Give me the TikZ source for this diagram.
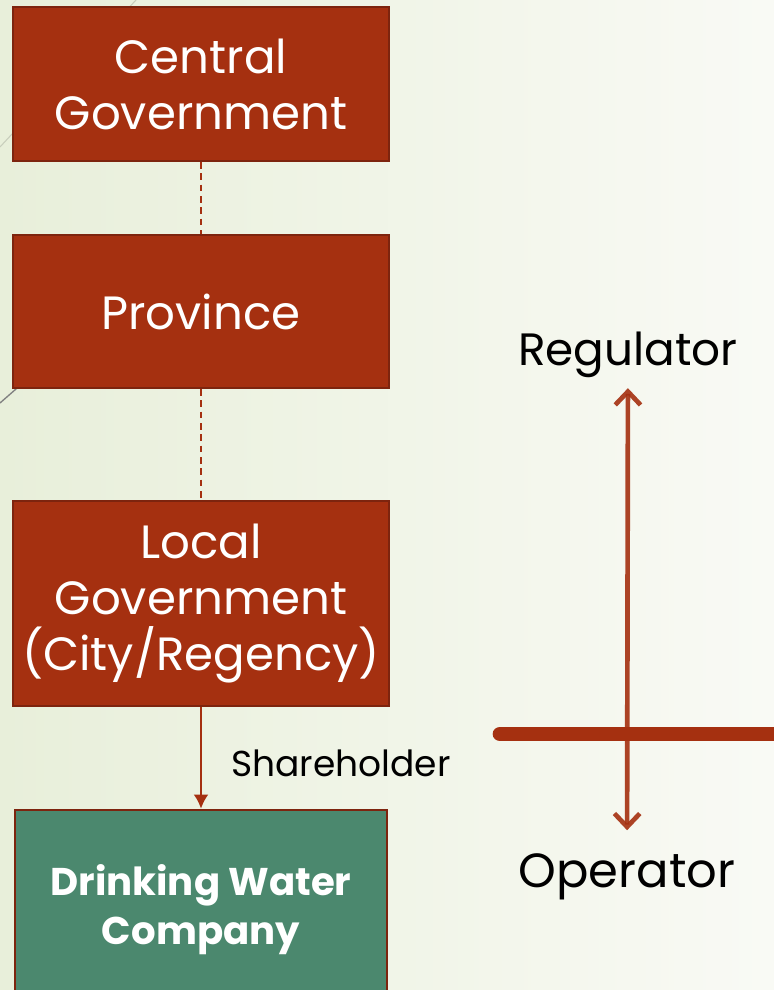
\documentclass[tikz,border=0pt]{standalone}
\usepackage{fontspec}
\setmainfont{Poppins}
\usetikzlibrary{positioning,arrows.meta}
\definecolor{rust}{RGB}{165,48,16}
\definecolor{rustdark}{RGB}{125,36,14}
\definecolor{pine}{RGB}{75,136,110}
\definecolor{bgleft}{RGB}{232,239,218}
\definecolor{bgright}{RGB}{249,250,245}
\definecolor{themeline}{RGB}{200,206,188}

\begin{document}
\begin{tikzpicture}[x=0.75pt, y=-0.75pt,
    govbox/.style={draw=rustdark, line width=1.5pt, fill=rust, text=white, rectangle, inner sep=2pt,
        minimum width=282pt, align=center, font=\fontsize{35}{42}\selectfont},
    link/.style={draw=rust, line width=1.1pt},
    caption/.style={inner sep=0pt, text=black}]
    \shade[left color=bgleft, right color=bgright] (0,0) rectangle (774,990);
    \useasboundingbox (0,0) rectangle (774,990);
    \draw[themeline, line width=0.8pt] (0,147) -- (136,0);
    \draw[gray, line width=1pt] (0,403) -- (40,368);

    \node[govbox, minimum height=115.5pt] (central) at (201,84) {Central\\Government};
    \node[govbox, minimum height=114.75pt, below=54pt of central] (province) {Province};
    \node[govbox, minimum height=153.75pt, below=83.5pt of province] (local) {
        Local\\Government\\(City/Regency)
    };
    \node[govbox, fill=pine, minimum width=279pt, minimum height=150pt, below=76pt of local,
        font=\bfseries\fontsize{29}{37}\selectfont] (water) {
        Drinking Water\\Company
    };

    \draw[link, dash pattern=on 5pt off 3.5pt] (central) -- (province);
    \draw[link, dash pattern=on 5pt off 3.5pt] (province) -- (local);
    \draw[link, line width=1.5pt, -{Latex[length=10.5pt,width=11pt]}] (local) --
        node[caption, right=22pt, pos=0.55, font=\fontsize{27}{32}\selectfont] (share) {Shareholder} (water);

    % regulator / operator split
    \node[caption, anchor=base, font=\fontsize{34}{40}\selectfont] (regulator) at (628,365) {Regulator};
    \node[caption, anchor=base, font=\fontsize{36}{42}\selectfont] (operator) at (627,887) {Operator};
    \draw[rust, line width=11pt, line cap=round] (500,734) -- (800,734);
    \draw[rust, opacity=0.9, line width=3.5pt, shorten <=8pt, shorten >=17pt,
        {Straight Barb[length=10pt,width=19pt]}-{Straight Barb[length=10pt,width=19pt]}] (regulator) -- (operator);
\end{tikzpicture}
\end{document}
